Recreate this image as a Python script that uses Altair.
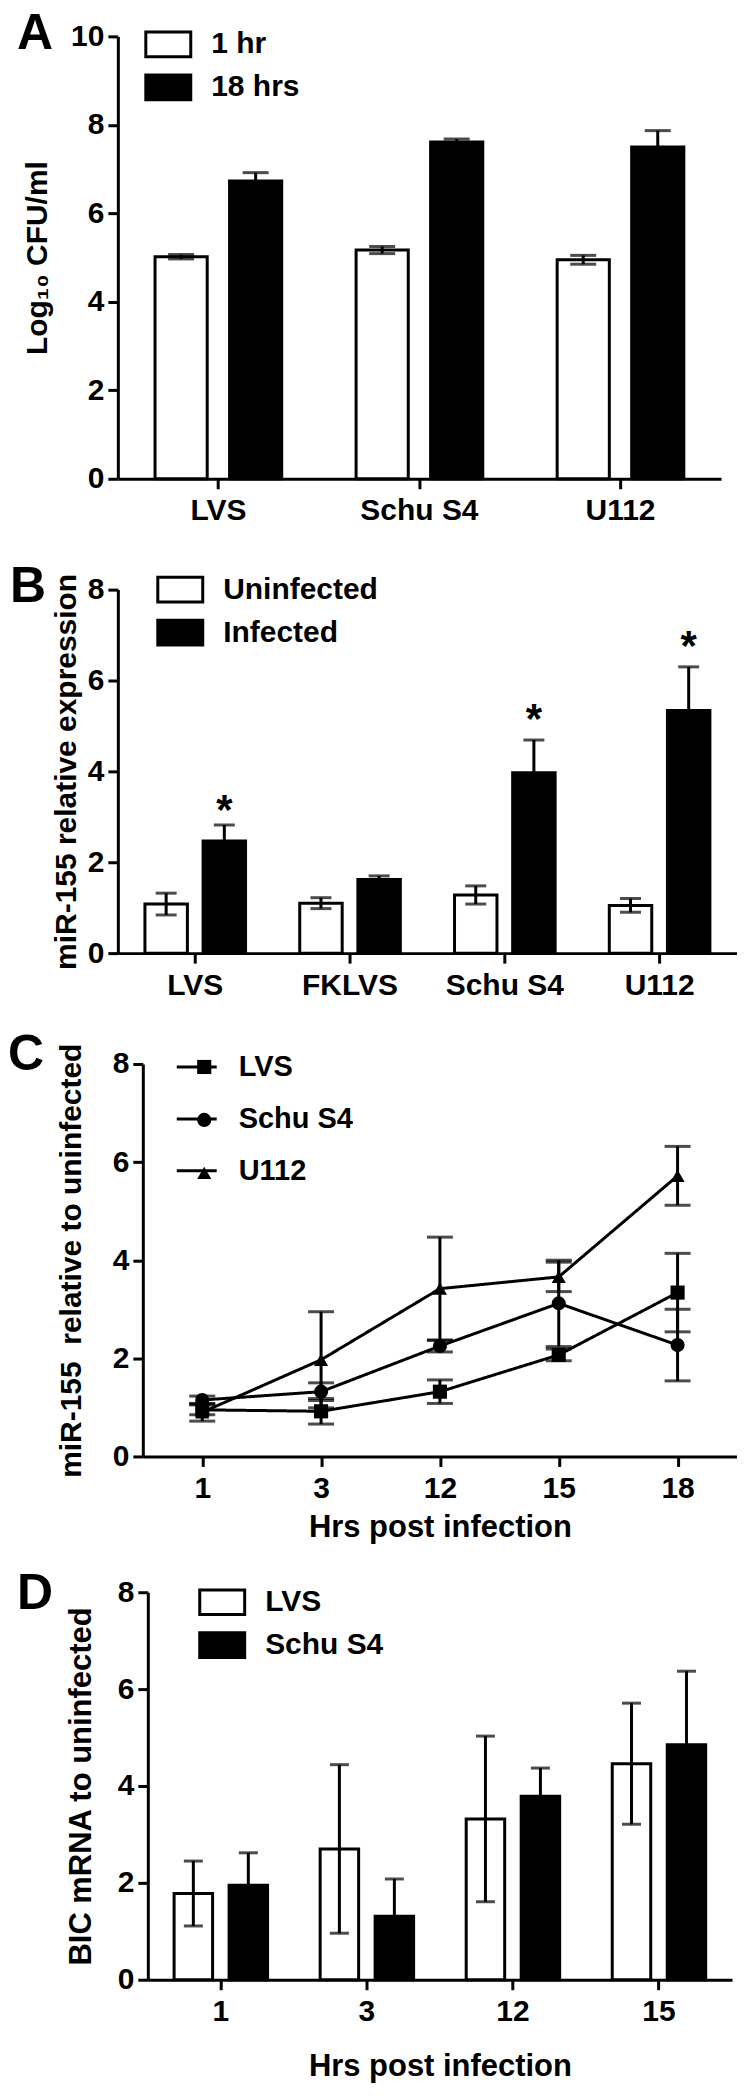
import altair as alt
import pandas as pd

FONT = "Liberation Sans, Arial, Helvetica, sans-serif"

# ---------------- Panel A ----------------
a_strains = ["LVS", "Schu S4", "U112"]
a_groups = ["1 hr", "18 hrs"]
a_1hr = [5.02, 5.17, 4.95]
a_1hr_err = [0.05, 0.08, 0.10]
a_18hr = [6.73, 7.61, 7.50]
a_18hr_err = [0.19, 0.07, 0.37]

# ---------------- Panel B ----------------
b_strains = ["LVS", "FKLVS", "Schu S4", "U112"]
b_groups = ["Uninfected", "Infected"]
b_uninf = [1.08, 1.10, 1.28, 1.05]
b_uninf_err = [0.24, 0.12, 0.20, 0.15]
b_inf = [2.47, 1.62, 3.97, 5.34]
b_inf_err = [0.35, 0.08, 0.72, 0.96]
b_star_strains = ["LVS", "Schu S4", "U112"]
b_star_y = [3.38, 5.38, 6.97]

# ---------------- Panel C ----------------
c_hours = ["1", "3", "12", "15", "18"]
c_series = ["LVS", "Schu S4", "U112"]
c_lvs = [0.95, 0.92, 1.32, 2.07, 3.34]
c_lvs_err = [0.10, 0.26, 0.24, 0.12, 0.80]
c_schu = [1.15, 1.32, 2.25, 3.12, 2.27]
c_schu_err = [0.08, 0.18, 0.12, 0.88, 0.73]
c_u112 = [0.90, 1.97, 3.42, 3.66, 5.72]
c_u112_err = [0.18, 0.98, 1.05, 0.30, 0.60]

# ---------------- Panel D ----------------
d_hours = ["1", "3", "12", "15"]
d_groups = ["LVS", "Schu S4"]
d_lvs = [1.78, 2.70, 3.32, 4.46]
d_lvs_err = [0.67, 1.74, 1.71, 1.25]
d_schu = [1.95, 1.31, 3.79, 4.85]
d_schu_err = [0.67, 0.77, 0.58, 1.52]

BOX = "M-1,-0.55H1V0.55H-1Z"


def letter_layer(letter, lx, ly):
    return alt.Chart(pd.DataFrame({"t": [letter]})).mark_text(
        font=FONT, fontSize=50, fontWeight="bold", color="black",
        align="left", baseline="alphabetic"
    ).encode(text="t:N", x=alt.value(lx), y=alt.value(ly))


def y_axis(ymax, title, tx, ty, tsize, off=0):
    return alt.Axis(values=list(range(0, ymax + 1, 2)), title=title, titleX=tx, titleY=ty,
                    titleAngle=-90, titleAlign="center", titleBaseline="middle",
                    titleFontSize=tsize, labelPadding=4, offset=off)


def x_axis(title=None, ty=None):
    if title is not None:
        return alt.Axis(labelAngle=0, labelPadding=7, title=title, titleY=ty,
                        titleBaseline="middle", titleFontSize=31)
    return alt.Axis(labelAngle=0, labelPadding=7, title=None)


def box_legend(lx, ly, rowpad):
    return alt.Legend(title=None, orient="none", legendX=lx, legendY=ly, symbolType=BOX,
                      symbolSize=2025, symbolStrokeColor="black", symbolStrokeWidth=3,
                      labelFont=FONT, labelFontSize=30, labelFontWeight="bold", labelColor="black",
                      labelOffset=19, rowPadding=rowpad, padding=0)


def bar_panel(cats, groups, means, errs, ymax, w, h, pi, opi, cap, legend, ytitle, ytx,
              letter, lxy, xtitle=None, xty=None, ytsize=30, stars=None, left=0, top=0):
    rows = []
    for gi, g in enumerate(groups):
        for ci, c in enumerate(cats):
            m = means[gi][ci]
            e = errs[gi][ci]
            rows.append({"cat": c, "grp": g, "val": m, "lo": m - e, "hi": m + e})
    df = pd.DataFrame(rows)
    xenc = alt.X("cat:N", sort=cats,
                 scale=alt.Scale(domain=cats, paddingInner=pi, paddingOuter=pi / 2, range=[left, left + w]),
                 axis=x_axis(xtitle, xty))
    xo = alt.XOffset("grp:N", sort=groups, scale=alt.Scale(domain=groups, paddingInner=opi, paddingOuter=0))
    yax = y_axis(ymax, ytitle, ytx, top + h / 2, ytsize, -left)
    ysc = alt.Scale(domain=[0, ymax], nice=False, range=[top + h, top])
    base = alt.Chart(df)
    bars = base.mark_bar(stroke="black", strokeWidth=3).encode(
        x=xenc, xOffset=xo,
        y=alt.Y("val:Q", scale=ysc, axis=yax),
        fill=alt.Fill("grp:N", sort=groups, scale=alt.Scale(domain=groups, range=["white", "black"]),
                      legend=legend),
    )
    rules = base.mark_rule(color="black", strokeWidth=3).encode(
        x=xenc, xOffset=xo, y=alt.Y("lo:Q", scale=ysc, axis=yax), y2="hi:Q")
    cap_hi = base.mark_tick(color="black", thickness=3, size=cap).encode(
        x=xenc, xOffset=xo, y=alt.Y("hi:Q", scale=ysc, axis=yax))
    cap_lo = base.mark_tick(color="black", thickness=3, size=cap).encode(
        x=xenc, xOffset=xo, y=alt.Y("lo:Q", scale=ysc, axis=yax))
    layers = [bars, rules, cap_hi, cap_lo]
    if stars is not None:
        sdf = pd.DataFrame({"cat": stars[0], "grp": [groups[1]] * len(stars[0]), "val": stars[1],
                            "s": ["*"] * len(stars[0])})
        st = alt.Chart(sdf).mark_text(font=FONT, fontSize=42, fontWeight="bold", color="black",
                                      baseline="alphabetic", dy=24).encode(
            x=xenc, xOffset=xo, y=alt.Y("val:Q", scale=ysc, axis=yax), text="s:N")
        layers.append(st)
    layers.append(letter_layer(letter, *lxy))
    return alt.layer(*layers).properties(width=left + w, height=top + h)


# Panel A  (plot origin = page x 118)
pA = bar_panel(a_strains, a_groups, [a_1hr, a_18hr], [a_1hr_err, a_18hr_err], 10, 604, 443,
               0.37, 0.30, 26, box_legend(26.5, -16, -9), "Log\u2081\u2080 CFU/ml", -80,
               "A", (-101, 13))

# Panel B
pB = bar_panel(b_strains, b_groups, [b_uninf, b_inf], [b_uninf_err, b_inf_err], 8, 620, 364,
               0.35, 0.27, 21, box_legend(38.5, -24, -6), "miR-155 relative expression", -51,
               "B", (-108, 12), stars=(b_star_strains, b_star_y))

# Panel D (axis shifted 30 px right, 25 px extra room on top)
pD = bar_panel(d_hours, d_groups, [d_lvs, d_schu], [d_lvs_err, d_schu_err], 8, 585, 388,
               0.36, 0.30, 19, box_legend(80.5, 11, -1), "BIC mRNA to uninfected", -66,
               "D", (-101, 42), xtitle="Hrs post infection", xty=87, ytsize=31, left=30, top=25)

# Panel C (axis shifted 25 px right)
c_rows = []
for s, vals, errs in [("LVS", c_lvs, c_lvs_err), ("Schu S4", c_schu, c_schu_err), ("U112", c_u112, c_u112_err)]:
    for hr, v, e in zip(c_hours, vals, errs):
        c_rows.append({"hr": hr, "series": s, "series_line": s, "val": v, "lo": v - e, "hi": v + e})
cdf = pd.DataFrame(c_rows)
cl, cw, ch = 25, 595, 393
cx = alt.X("hr:O", sort=c_hours,
           scale=alt.Scale(type="point", domain=c_hours, padding=0.5, range=[cl, cl + cw]),
           axis=x_axis("Hrs post infection", 71))
cysc = alt.Scale(domain=[0, 8], nice=False)
cyax = y_axis(8, "miR-155\u00a0 relative to uninfected", -71, ch / 2, 30, -cl)
cbase = alt.Chart(cdf)
c_line = cbase.mark_line(color="black", strokeWidth=3).encode(
    x=cx, y=alt.Y("val:Q", scale=cysc, axis=cyax),
    strokeDash=alt.StrokeDash("series_line:N", sort=c_series,
                              scale=alt.Scale(range=[[1, 0], [1, 0], [1, 0]]),
                              legend=alt.Legend(title=None, orient="none", legendX=57.5, legendY=-18.5,
                                                symbolType="stroke", symbolSize=1600, symbolStrokeWidth=3,
                                                symbolStrokeColor="black", labelFont=FONT, labelFontSize=29,
                                                labelFontWeight="bold", labelColor="black", labelOffset=20.5,
                                                rowPadding=15, padding=0)),
)
c_rule = cbase.mark_rule(color="black", strokeWidth=3).encode(
    x=cx, y=alt.Y("lo:Q", scale=cysc, axis=cyax), y2="hi:Q", detail="series:N")
c_caph = cbase.mark_tick(color="black", thickness=3, size=26).encode(
    x=cx, y=alt.Y("hi:Q", scale=cysc, axis=cyax), detail="series:N")
c_capl = cbase.mark_tick(color="black", thickness=3, size=26).encode(
    x=cx, y=alt.Y("lo:Q", scale=cysc, axis=cyax), detail="series:N")
c_pts = cbase.mark_point(filled=True, color="black", size=200, opacity=1).encode(
    x=cx, y=alt.Y("val:Q", scale=cysc, axis=cyax),
    shape=alt.Shape("series:N", sort=c_series,
                    scale=alt.Scale(domain=c_series, range=["square", "circle", "triangle-up"]),
                    legend=alt.Legend(title=None, orient="none", legendX=72, legendY=-11.5,
                                      symbolSize=200, symbolFillColor="black", symbolStrokeWidth=0,
                                      labelFont=FONT, labelFontSize=29, labelFontWeight="bold",
                                      labelExpr="''", rowPadding=23, padding=0)),
)
pC = alt.layer(c_line, c_rule, c_caph, c_capl, c_pts, letter_layer("C", -110, 6)
               ).properties(width=cl + cw, height=ch)

chart = alt.vconcat(pA, pB, pC, pD, spacing=111, bounds="flush").resolve_scale(
    fill="independent", shape="independent", strokeDash="independent", xOffset="independent",
    x="independent", y="independent"
).resolve_legend(
    fill="independent", shape="independent", strokeDash="independent"
).properties(padding=0).configure_view(
    stroke=None
).configure_axis(
    domainColor="black", domainWidth=3, tickColor="black", tickWidth=3, tickSize=10,
    labelFont=FONT, labelFontSize=30, labelFontWeight="bold", labelColor="black",
    titleFont=FONT, titleFontWeight="bold", titleColor="black", grid=False
)

chart.save("out.html", embed_options={"renderer": "svg", "actions": False})
